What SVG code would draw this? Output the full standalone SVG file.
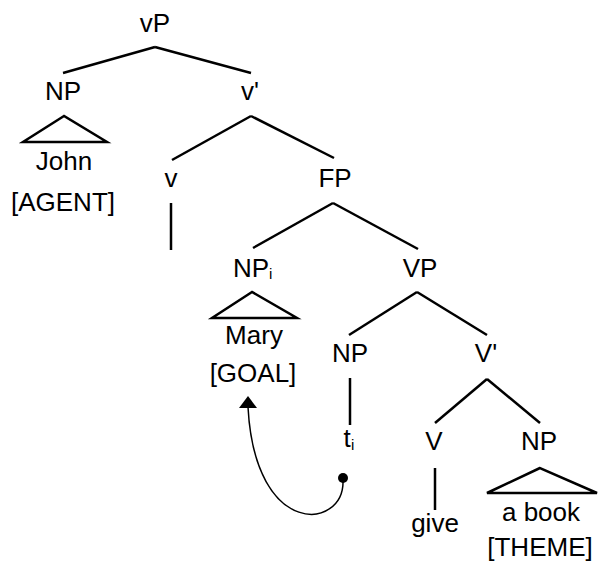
<svg xmlns="http://www.w3.org/2000/svg" width="598" height="563" viewBox="0 0 598 563">
<style>
text{font-family:"Liberation Sans",Arial,sans-serif;font-size:26px;fill:#000;text-anchor:middle}
.sub{font-size:15px;text-anchor:start}
.e{stroke:#000;stroke-width:2.5;fill:none;stroke-linecap:butt}
.tri{stroke:#000;stroke-width:2.5;fill:none;stroke-linejoin:miter}
</style>
<rect width="598" height="563" fill="#fff"/>
<g id="connectors">
<line class="e" x1="155" y1="47" x2="63" y2="73"/>
<line class="e" x1="155" y1="47" x2="251" y2="73"/>
<line class="e" x1="251" y1="116" x2="172" y2="160"/>
<line class="e" x1="251" y1="116" x2="334" y2="158"/>
<line class="e" x1="171" y1="203" x2="171" y2="250"/>
<line class="e" x1="333" y1="203" x2="253" y2="248"/>
<line class="e" x1="333" y1="203" x2="418" y2="249"/>
<line class="e" x1="417" y1="292" x2="349" y2="335"/>
<line class="e" x1="417" y1="292" x2="487" y2="335"/>
<line class="e" x1="350" y1="378" x2="350" y2="425"/>
<line class="e" x1="487" y1="379" x2="435" y2="423"/>
<line class="e" x1="487" y1="379" x2="540" y2="423"/>
<line class="e" x1="435" y1="468" x2="435" y2="510"/>
<path d="M343,480 C345,530 255,540 248,407" stroke="#000" stroke-width="1.5" fill="none"/>
<path d="M248,396 L257,408 L239,408 Z" fill="#000"/>
<circle cx="343" cy="478" r="5" fill="#000"/>
</g>
<g id="vP"><text x="155" y="32">vP</text></g>
<g id="NP-john">
<text x="63" y="100">NP</text>
<polygon class="tri" points="64,116 23,142 107,142"/>
<text x="64" y="170">John</text>
<text x="63" y="211">[AGENT]</text>
</g>
<g id="v-bar"><text x="250" y="100">v'</text></g>
<g id="v"><text x="171" y="187">v</text></g>
<g id="FP"><text x="335" y="187">FP</text></g>
<g id="NP-mary">
<text x="251" y="277">NP</text><text class="sub" x="269" y="279">i</text>
<polygon class="tri" points="252,292 212,318 297,318"/>
<text x="254" y="344">Mary</text>
<text x="253" y="382">[GOAL]</text>
</g>
<g id="VP"><text x="420" y="277">VP</text></g>
<g id="NP-trace">
<text x="350" y="362">NP</text>
<text x="347" y="447">t</text><text class="sub" x="351" y="450">i</text>
</g>
<g id="V-bar"><text x="486" y="362">V'</text></g>
<g id="V">
<text x="434" y="450">V</text>
<text x="435" y="532">give</text>
</g>
<g id="NP-book">
<text x="539" y="450">NP</text>
<polygon class="tri" points="540,468 487,493 597,493"/>
<text x="541" y="521">a book</text>
<text x="540" y="556">[THEME]</text>
</g>
</svg>
